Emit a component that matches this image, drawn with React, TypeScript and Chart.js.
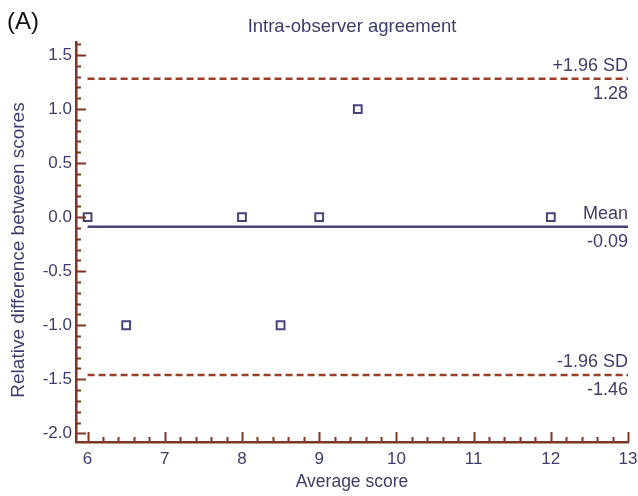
import React, { useEffect, useRef } from "react";
import { Chart, registerables } from "chart.js";

Chart.register(...registerables);

const averageScores = [6, 6.5, 8, 8.5, 9, 9.5, 12];
const differences = [0, -1, 0, -1, 0, 1, 0];
const lineSpan = [6, 13];
const meanValue = [-0.09];
const upperLimit = [1.28];
const lowerLimit = [-1.46];
const xTickValues = [6, 7, 8, 9, 10, 11, 12, 13];
const yTickValues = [-2.0, -1.5, -1.0, -0.5, 0.0, 0.5, 1.0, 1.5];

const NAVY = "#45457a";
const TEXT = "#3d3d6d";
const BROWN = "#7d3526";
const DASH = "#9a3e2a";
const FONT = "'Liberation Sans', Arial, sans-serif";

export default function App() {
  const ref = useRef<HTMLCanvasElement | null>(null);
  useEffect(() => {
    if (!ref.current) return;
    const hline = (v: number) => lineSpan.map((x) => ({ x, y: v }));
    const overlay = {
      id: "overlay",
      afterDraw(chart: any) {
        const { ctx, chartArea, scales } = chart;
        const xs = scales.x;
        const ys = scales.y;
        ctx.save();
        ctx.strokeStyle = BROWN;
        ctx.lineWidth = 2;
        for (let i = 0; i <= 35; i++) {
          const v = 6 + i * 0.2;
          const major = i % 5 === 0;
          const px = Math.round(xs.getPixelForValue(v)) + 0.5;
          ctx.beginPath();
          ctx.moveTo(px, chartArea.bottom);
          ctx.lineTo(px, chartArea.bottom - (major ? 10 : 5));
          ctx.stroke();
        }
        for (let i = 0; i <= 36; i++) {
          const v = -2.0 + i * 0.1;
          const major = i % 5 === 0;
          const py = Math.round(ys.getPixelForValue(v)) + 0.5;
          ctx.beginPath();
          ctx.moveTo(chartArea.left, py);
          ctx.lineTo(chartArea.left + (major ? 10 : 5), py);
          ctx.stroke();
        }
        ctx.fillStyle = TEXT;
        ctx.font = `18px ${FONT}`;
        ctx.textAlign = "right";
        ctx.textBaseline = "middle";
        const rx = chartArea.right;
        const lab = (v: number, top: string, bottom: string) => {
          const py = ys.getPixelForValue(v);
          ctx.fillText(top, rx, py - 13);
          ctx.fillText(bottom, rx, py + 15);
        };
        lab(upperLimit[0], "+1.96 SD", upperLimit[0].toFixed(2));
        lab(meanValue[0], "Mean", meanValue[0].toFixed(2));
        lab(lowerLimit[0], "-1.96 SD", lowerLimit[0].toFixed(2));
        ctx.textAlign = "center";
        ctx.font = `18.5px ${FONT}`;
        ctx.fillText("Intra-observer agreement", (chartArea.left + chartArea.right) / 2, 27);
        ctx.font = `17.5px ${FONT}`;
        ctx.fillText("Average score", (chartArea.left + chartArea.right) / 2, 482);
        ctx.save();
        ctx.translate(19, (chartArea.top + chartArea.bottom) / 2 + 8);
        ctx.rotate(-Math.PI / 2);
        ctx.font = `19px ${FONT}`;
        ctx.fillText("Relative difference between scores", 0, 0);
        ctx.restore();
        ctx.fillStyle = "#111";
        ctx.font = `24px ${FONT}`;
        ctx.textAlign = "left";
        ctx.fillText("(A)", 7, 22);
        ctx.restore();
      },
    };
    const chart = new Chart(ref.current, {
      type: "scatter",
      data: {
        datasets: [
          {
            data: hline(upperLimit[0]),
            showLine: true,
            borderColor: DASH,
            borderWidth: 2.5,
            borderDash: [7, 4],
            pointRadius: 0,
          },
          {
            data: hline(lowerLimit[0]),
            showLine: true,
            borderColor: DASH,
            borderWidth: 2.5,
            borderDash: [7, 4],
            pointRadius: 0,
          },
          {
            data: hline(meanValue[0]),
            showLine: true,
            borderColor: NAVY,
            borderWidth: 2.5,
            pointRadius: 0,
          },
          {
            data: averageScores.map((x, i) => ({ x, y: differences[i] })),
            pointStyle: "rect",
            pointRadius: 5.5,
            pointBorderColor: NAVY,
            pointBackgroundColor: "rgba(255,255,255,1)",
            pointBorderWidth: 2,
          },
        ] as any,
      },
      options: {
        animation: false,
        responsive: true,
        maintainAspectRatio: false,
        layout: { padding: { top: 42, right: 10, left: 0, bottom: 0 } },
        plugins: { legend: { display: false }, tooltip: { enabled: false } },
        scales: {
          x: {
            type: "linear",
            min: 5.85,
            max: 13,
            afterBuildTicks: (s: any) => {
              s.ticks = xTickValues.map((v) => ({ value: v }));
            },
            afterFit: (s: any) => {
              s.height = 54;
              s.paddingRight = 0;
              s.paddingLeft = 0;
            },
            grid: { display: false, drawTicks: false },
            border: { display: true, color: BROWN, width: 2.5 },
            ticks: {
              color: TEXT,
              font: { size: 17, family: FONT },
              padding: 7,
              callback: (v: any) => String(v),
            },
          },
          y: {
            type: "linear",
            min: -2.08,
            max: 1.62,
            afterBuildTicks: (s: any) => {
              s.ticks = yTickValues.map((v) => ({ value: v }));
            },
            afterFit: (s: any) => {
              s.width = 76;
              s.paddingTop = 0;
              s.paddingBottom = 0;
            },
            grid: { display: false, drawTicks: false },
            border: { display: true, color: BROWN, width: 2.5 },
            ticks: {
              color: TEXT,
              font: { size: 17, family: FONT },
              padding: 4,
              callback: (v: any) => Number(v).toFixed(1),
            },
          },
        },
      },
      plugins: [overlay],
    });
    return () => chart.destroy();
  }, []);
  return (
    <div style={{ position: "absolute", left: 0, top: 0, width: 638, height: 496, background: "#fff" }}>
      <canvas ref={ref} />
    </div>
  );
}
